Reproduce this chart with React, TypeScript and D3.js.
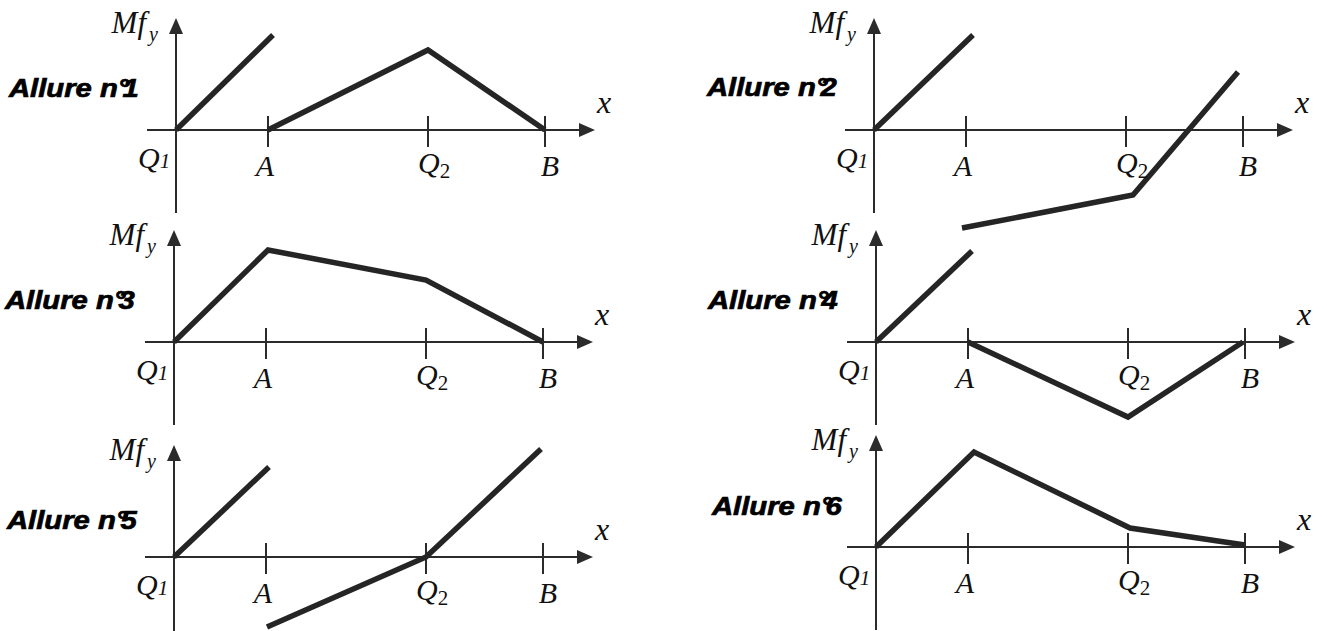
import React from "react";
import * as d3 from "d3";

// ---- Data (abstract schematic units: x along beam, y = bending moment) ----
const tickNames = ["Q", "A", "Q", "B"];
const tickSubs = ["1", "", "2", ""];
const tickPositions = [0, 0.92, 2.52, 3.69];

const panelTitles = ["Allure n°1", "Allure n°2", "Allure n°3", "Allure n°4", "Allure n°5", "Allure n°6"];

type Pt = [number, number];
const allure1: Pt[][] = [
  [[0, 0], [0.97, 0.95]],
  [[0.92, 0], [2.52, 0.8], [3.69, 0]],
];
const allure2: Pt[][] = [
  [[0, 0], [0.99, 0.95]],
  [[0.88, -0.98], [2.59, -0.65], [3.64, 0.58]],
];
const allure3: Pt[][] = [
  [[0, 0], [0.94, 0.92], [2.52, 0.62], [3.69, 0]],
];
const allure4: Pt[][] = [
  [[0, 0], [0.96, 0.91]],
  [[0.92, 0], [2.52, -0.75], [3.67, 0]],
];
const allure5: Pt[][] = [
  [[0, 0], [0.95, 0.9]],
  [[0.93, -0.7], [2.52, 0], [3.67, 1.08]],
];
const allure6: Pt[][] = [
  [[0, 0], [0.98, 0.95], [2.54, 0.19], [3.69, 0.02]],
];
const allSeries = [allure1, allure2, allure3, allure4, allure5, allure6];

// ---- Layout (pixel positions of each small panel) ----
const origins: [number, number][] = [
  [176, 130], [874, 130],
  [174, 342], [876, 342],
  [174, 557], [876, 547],
];
const titlePos: [number, number][] = [
  [9, 97], [707, 96],
  [5, 309], [708, 309],
  [7, 529], [712, 515],
];

const AXIS = "#2b2b2b";
const LINE = "#252525";
const serif = "'Liberation Serif', 'Times New Roman', serif";
const sans = "'Liberation Sans', Arial, sans-serif";

const xs = d3.scaleLinear().domain([0, 1]).range([0, 100]);
const ys = d3.scaleLinear().domain([0, 1]).range([0, -100]);
const line = d3
  .line<Pt>()
  .x((d) => xs(d[0]))
  .y((d) => ys(d[1]));

function Panel({ idx }: { idx: number }) {
  const [ox, oy] = origins[idx];
  const series = allSeries[idx];
  const xStart = xs(-0.29);
  const xEnd = xs(4.19);
  const yTop = -112;
  const yBot = 83;
  return (
    <g transform={`translate(${ox},${oy})`}>
      {/* x axis */}
      <line x1={xStart} x2={xEnd - 12} y1={0} y2={0} stroke={AXIS} strokeWidth={2} />
      <path d={`M${xEnd},0 L${xEnd - 16},-7 L${xEnd - 16},7 Z`} fill={AXIS} />
      {/* y axis */}
      <line x1={0} x2={0} y1={yBot} y2={yTop + 12} stroke={AXIS} strokeWidth={2} />
      <path d={`M0,${yTop} L-7,${yTop + 16} L7,${yTop + 16} Z`} fill={AXIS} />
      {/* ticks */}
      {tickPositions.slice(1).map((t, i) => (
        <line key={i} x1={xs(t)} x2={xs(t)} y1={-14} y2={17} stroke={AXIS} strokeWidth={2} />
      ))}
      {/* series */}
      {series.map((seg, i) => (
        <path
          key={i}
          d={line(seg) || ""}
          fill="none"
          stroke={LINE}
          strokeWidth={5.5}
          strokeLinejoin="miter"
          strokeLinecap="butt"
        />
      ))}
      {/* tick labels */}
      <text x={-38} y={38} fontFamily={serif} fontStyle="italic" fontSize={30} fill="#111">
        {tickNames[0]}
        <tspan fontSize={21}>{tickSubs[0]}</tspan>
      </text>
      <text x={xs(tickPositions[1]) - 3} y={46} textAnchor="middle" fontFamily={serif} fontStyle="italic" fontSize={30} fill="#111">
        {tickNames[1]}
      </text>
      <text x={xs(tickPositions[2]) - 10} y={43} fontFamily={serif} fontStyle="italic" fontSize={30} fill="#111">
        {tickNames[2]}
        <tspan fontSize={21} fontStyle="normal" dy={5}>{tickSubs[2]}</tspan>
      </text>
      <text x={xs(tickPositions[3]) + 5} y={46} textAnchor="middle" fontFamily={serif} fontStyle="italic" fontSize={30} fill="#111">
        {tickNames[3]}
      </text>
      {/* axis names */}
      <text x={-30} y={-97} textAnchor="end" fontFamily={serif} fontStyle="italic" fontSize={31} fill="#111">
        Mf
      </text>
      <text x={-27} y={-89} fontFamily={serif} fontStyle="italic" fontSize={20} fill="#111">
        y
      </text>
      <text x={xs(4.21)} y={-17} fontFamily={serif} fontStyle="italic" fontSize={32} fill="#111">
        x
      </text>
    </g>
  );
}

function Title({ idx }: { idx: number }) {
  const [tx, ty] = titlePos[idx];
  const t = panelTitles[idx];
  const base = t.slice(0, t.indexOf("°"));
  const rest = t.slice(t.indexOf("°"));
  return (
    <text
      transform={`translate(${tx},${ty}) scale(1.17,1)`}
      fontFamily={sans}
      fontWeight="bold"
      fontStyle="italic"
      fontSize={25}
      fill="#000"
      stroke="#000"
      strokeWidth={0.7}
    >
      {base}
      <tspan letterSpacing={-6}>{rest}</tspan>
    </text>
  );
}

export default function App() {
  return (
    <svg
      width={1327}
      height={631}
      viewBox="0 0 1327 631"
      style={{ position: "absolute", left: 0, top: 0, background: "#fff" }}
    >
      <rect width={1327} height={631} fill="#fff" />
      {origins.map((_, i) => (
        <Panel key={i} idx={i} />
      ))}
      {origins.map((_, i) => (
        <Title key={"t" + i} idx={i} />
      ))}
    </svg>
  );
}
